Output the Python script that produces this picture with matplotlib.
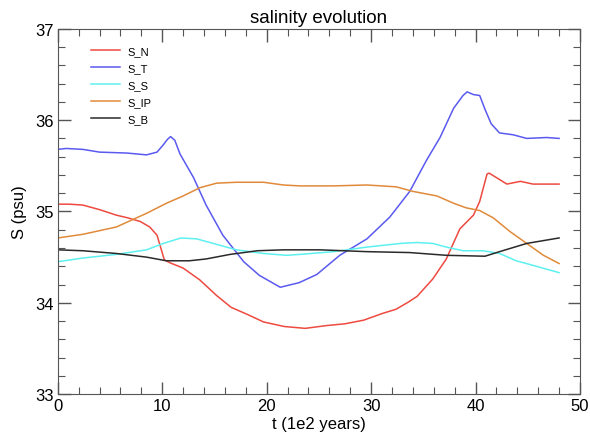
import matplotlib
matplotlib.use("Agg")
import matplotlib.pyplot as plt
from matplotlib.ticker import MultipleLocator

plt.rcParams['font.family'] = ['Liberation Sans', 'DejaVu Sans']

# salinity series (t in 1e2 years, S in psu)
t_N = [0, 1.1, 2.4, 4.0, 5.6, 6.7, 7.9, 8.8, 9.5, 10.2, 10.7, 12.0, 13.6, 15.2, 16.6,
       18.2, 19.7, 21.7, 23.7, 25.7, 27.5, 29.3, 31.0, 32.4, 33.6, 34.4, 35.9, 37.2,
       38.5, 39.8, 40.4, 41.1, 41.3, 42.3, 43.0, 44.3, 45.5, 46.8, 48.0]
S_N = [35.08, 35.08, 35.07, 35.02, 34.96, 34.93, 34.89, 34.83, 34.74, 34.47, 34.44,
       34.38, 34.25, 34.08, 33.95, 33.87, 33.79, 33.74, 33.72, 33.75, 33.77, 33.81,
       33.88, 33.93, 34.01, 34.07, 34.26, 34.48, 34.81, 34.96, 35.11, 35.41, 35.42,
       35.35, 35.30, 35.33, 35.30, 35.30, 35.30]

t_T = [0, 0.8, 2.4, 4.0, 6.6, 8.5, 9.5, 10.1, 10.5, 10.8, 11.2, 11.7, 13.0, 14.2,
       15.8, 17.8, 19.3, 21.3, 23.1, 24.8, 27.0, 29.6, 31.8, 33.7, 35.3, 36.6, 37.9,
       38.8, 39.2, 39.8, 40.4, 40.9, 41.5, 42.3, 43.6, 44.9, 46.8, 48.0]
S_T = [35.68, 35.69, 35.68, 35.65, 35.64, 35.62, 35.65, 35.73, 35.79, 35.82, 35.78,
       35.63, 35.37, 35.07, 34.74, 34.45, 34.30, 34.17, 34.22, 34.31, 34.52, 34.70,
       34.94, 35.22, 35.56, 35.81, 36.13, 36.27, 36.31, 36.28, 36.27, 36.12, 35.96,
       35.86, 35.84, 35.80, 35.81, 35.80]

t_S = [0, 2.4, 5.6, 8.5, 10.1, 11.8, 13.3, 15.2, 17.1, 19.7, 21.9, 23.2, 26.4, 29.6,
       32.8, 34.4, 35.9, 37.2, 38.8, 40.7, 42.3, 43.9, 45.5, 48.0]
S_S = [34.45, 34.49, 34.53, 34.58, 34.65, 34.71, 34.70, 34.64, 34.58, 34.54, 34.52,
       34.53, 34.56, 34.61, 34.65, 34.66, 34.65, 34.61, 34.57, 34.57, 34.54, 34.46,
       34.41, 34.33]

t_IP = [0, 2.4, 5.6, 8.5, 10.4, 12.0, 13.6, 15.2, 17.1, 19.7, 21.6, 23.2, 26.4, 29.6,
        32.4, 34.0, 36.3, 37.9, 39.1, 40.4, 41.7, 43.3, 44.9, 46.5, 48.0]
S_IP = [34.71, 34.75, 34.83, 34.98, 35.09, 35.17, 35.26, 35.31, 35.32, 35.32, 35.29,
        35.28, 35.28, 35.29, 35.27, 35.22, 35.17, 35.09, 35.04, 35.01, 34.93, 34.78,
        34.65, 34.52, 34.43]

t_B = [0, 2.4, 5.6, 8.5, 10.4, 12.6, 14.2, 16.5, 19.1, 21.6, 25.1, 29.6, 33.7, 37.2,
       40.9, 42.3, 44.9, 48.0]
S_B = [34.58, 34.57, 34.54, 34.50, 34.46, 34.46, 34.48, 34.53, 34.57, 34.58, 34.58,
       34.56, 34.55, 34.52, 34.51, 34.56, 34.65, 34.71]

fig = plt.figure(figsize=(5.9, 4.39), dpi=100)
ax = fig.add_axes([0.098, 0.100, 0.885, 0.832])

ax.plot(t_N, S_N, color='#ee4a40', lw=1.1, label='S_N')
ax.plot(t_T, S_T, color='#5a5af0', lw=1.1, label='S_T')
ax.plot(t_S, S_S, color='#5ef0f0', lw=1.1, label='S_S')
ax.plot(t_IP, S_IP, color='#e08a3a', lw=1.1, label='S_IP')
ax.plot(t_B, S_B, color='#2a2a2a', lw=1.1, label='S_B')

ax.set_xlim(0, 50)
ax.set_ylim(33, 37)
ax.xaxis.set_major_locator(MultipleLocator(10))
ax.xaxis.set_minor_locator(MultipleLocator(2))
ax.yaxis.set_major_locator(MultipleLocator(1))
ax.yaxis.set_minor_locator(MultipleLocator(0.2))
ax.tick_params(which='both', direction='in', top=True, right=True,
               color='#555555', labelsize=12)
ax.tick_params(which='major', length=9, width=1, pad=3)
ax.tick_params(which='minor', length=5, width=0.8)
for sp in ax.spines.values():
    sp.set_color('#555555')

ax.set_xlabel('t (1e2 years)', fontsize=12, labelpad=2)
ax.set_ylabel('S (psu)', fontsize=12, labelpad=6)
ax.set_title('salinity evolution', fontsize=13.5, pad=5)

ax.legend(loc='upper left', bbox_to_anchor=(0.045, 0.98), frameon=False,
          fontsize=8, handlelength=2.6, labelspacing=0.62, handletextpad=0.7)

fig.savefig('out.png', dpi=100)
